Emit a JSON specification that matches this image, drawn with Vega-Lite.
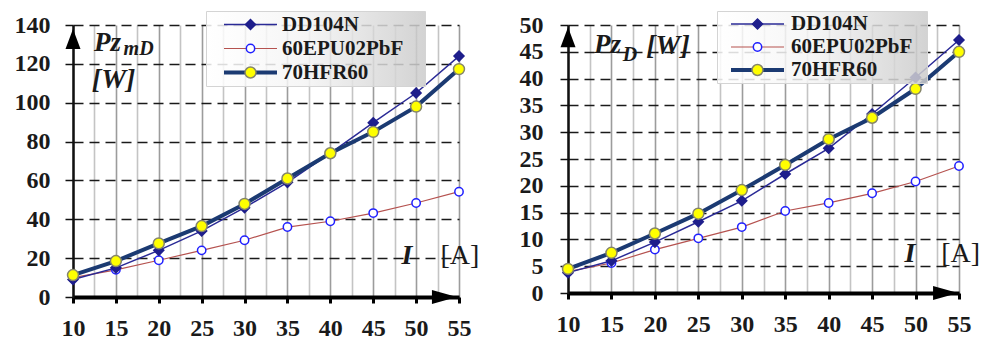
{
  "$schema": "https://vega.github.io/schema/vega-lite/v6.json",
  "background": "white",
  "padding": {"left": 14, "top": 10, "right": 0, "bottom": 0},
  "spacing": 109,
  "bounds": "flush",
  "resolve": {"legend": {"color": "independent", "strokeWidth": "independent", "shape": "independent", "fill": "independent", "stroke": "independent", "size": "independent"}},
  "config": {
    "view": {"stroke": null},
    "legend": {"labelFont": "Liberation Serif", "labelFontWeight": "bold", "labelFontSize": 21, "labelColor": "#1a1a1a"}
  },
  "datasets": {
    "left": [
      {"I": 10, "P": 10, "series": "60EPU02PbF"}, {"I": 15, "P": 14, "series": "60EPU02PbF"}, {"I": 20, "P": 18.9, "series": "60EPU02PbF"}, {"I": 25, "P": 24, "series": "60EPU02PbF"}, {"I": 30, "P": 29.2, "series": "60EPU02PbF"}, {"I": 35, "P": 36, "series": "60EPU02PbF"}, {"I": 40, "P": 39, "series": "60EPU02PbF"}, {"I": 45, "P": 43.2, "series": "60EPU02PbF"}, {"I": 50, "P": 48.4, "series": "60EPU02PbF"}, {"I": 55, "P": 54.2, "series": "60EPU02PbF"},
      {"I": 10, "P": 9, "series": "DD104N"}, {"I": 15, "P": 15, "series": "DD104N"}, {"I": 20, "P": 24, "series": "DD104N"}, {"I": 25, "P": 34, "series": "DD104N"}, {"I": 30, "P": 46, "series": "DD104N"}, {"I": 35, "P": 59, "series": "DD104N"}, {"I": 40, "P": 74, "series": "DD104N"}, {"I": 45, "P": 89.7, "series": "DD104N"}, {"I": 50, "P": 105, "series": "DD104N"}, {"I": 55, "P": 124, "series": "DD104N"},
      {"I": 10, "P": 11.3, "series": "70HFR60"}, {"I": 15, "P": 18.5, "series": "70HFR60"}, {"I": 20, "P": 27.6, "series": "70HFR60"}, {"I": 25, "P": 36.5, "series": "70HFR60"}, {"I": 30, "P": 47.9, "series": "70HFR60"}, {"I": 35, "P": 61, "series": "70HFR60"}, {"I": 40, "P": 74, "series": "70HFR60"}, {"I": 45, "P": 85, "series": "70HFR60"}, {"I": 50, "P": 98, "series": "70HFR60"}, {"I": 55, "P": 117.3, "series": "70HFR60"}
    ],
    "right": [
      {"I": 10, "P": 4, "series": "60EPU02PbF"}, {"I": 15, "P": 5.6, "series": "60EPU02PbF"}, {"I": 20, "P": 8.1, "series": "60EPU02PbF"}, {"I": 25, "P": 10.2, "series": "60EPU02PbF"}, {"I": 30, "P": 12.3, "series": "60EPU02PbF"}, {"I": 35, "P": 15.3, "series": "60EPU02PbF"}, {"I": 40, "P": 16.8, "series": "60EPU02PbF"}, {"I": 45, "P": 18.6, "series": "60EPU02PbF"}, {"I": 50, "P": 20.8, "series": "60EPU02PbF"}, {"I": 55, "P": 23.7, "series": "60EPU02PbF"},
      {"I": 10, "P": 3.8, "series": "DD104N"}, {"I": 15, "P": 6, "series": "DD104N"}, {"I": 20, "P": 9.5, "series": "DD104N"}, {"I": 25, "P": 13.3, "series": "DD104N"}, {"I": 30, "P": 17.2, "series": "DD104N"}, {"I": 35, "P": 22.2, "series": "DD104N"}, {"I": 40, "P": 27, "series": "DD104N"}, {"I": 45, "P": 33.4, "series": "DD104N"}, {"I": 50, "P": 40.2, "series": "DD104N"}, {"I": 55, "P": 47.2, "series": "DD104N"},
      {"I": 10, "P": 4.5, "series": "70HFR60"}, {"I": 15, "P": 7.5, "series": "70HFR60"}, {"I": 20, "P": 11.1, "series": "70HFR60"}, {"I": 25, "P": 14.8, "series": "70HFR60"}, {"I": 30, "P": 19.2, "series": "70HFR60"}, {"I": 35, "P": 23.9, "series": "70HFR60"}, {"I": 40, "P": 28.7, "series": "70HFR60"}, {"I": 45, "P": 32.7, "series": "70HFR60"}, {"I": 50, "P": 38.1, "series": "70HFR60"}, {"I": 55, "P": 45, "series": "70HFR60"}
    ]
  },
  "hconcat": [
    {
      "width": 386,
      "height": 272,
      "data": {"name": "left"},
      "layer": [
        {
          "mark": {"type": "line", "clip": false},
          "encoding": {
            "x": {"field": "I", "type": "quantitative", "scale": {"domain": [10, 55], "nice": false, "zero": false},
              "axis": {"values": [10, 12.5, 15, 17.5, 20, 22.5, 25, 27.5, 30, 32.5, 35, 37.5, 40, 42.5, 45, 47.5, 50, 52.5, 55], "tickCount": 100, "format": "d", "labelExpr": "datum.value % 5 === 0 ? datum.label : ''", "title": null, "grid": true,
                "gridColor": {"condition": {"test": "datum.value % 5 === 0", "value": "#9c9c9c"}, "value": "#c4c4c4"}, "gridWidth": 1.6,
                "domainColor": "#000000", "domainWidth": 4, "tickColor": "#000000", "tickWidth": {"condition": {"test": "datum.value % 5 === 0", "value": 3}, "value": 0}, "tickSize": 6,
                "labelFont": "Liberation Serif", "labelFontWeight": "bold", "labelFontSize": 24, "labelColor": "#1a1a1a", "labelPadding": 13, "labelFlush": false, "labelOverlap": false}},
            "y": {"field": "P", "type": "quantitative", "scale": {"domain": [0, 140], "nice": false},
              "axis": {"values": [0, 20, 40, 60, 80, 100, 120, 140], "tickCount": 100, "format": "d", "title": null, "grid": true, "gridDash": [10, 6], "gridColor": "#1a1a1a", "gridWidth": 1.5,
                "domainColor": "#111111", "domainWidth": 2.5, "tickColor": "#111111", "tickSize": 8, "tickWidth": 1.5,
                "labelFont": "Liberation Serif", "labelFontWeight": "bold", "labelFontSize": 24, "labelColor": "#1a1a1a", "labelPadding": 15, "labelFlush": false, "labelOverlap": false}},
            "color": {"field": "series", "type": "nominal", "scale": {"domain": ["DD104N", "60EPU02PbF", "70HFR60"], "range": ["#2a2a96", "#b5524f", "#1b3a72"]},
              "legend": {"title": ".", "titleOrient": "right", "titlePadding": 18, "titleFontSize": 1, "titleColor": "transparent", "orient": "none", "legendX": 133, "legendY": -14, "direction": "vertical", "columns": 1, "padding": 3, "clipHeight": 21, "rowPadding": 2, "symbolType": "stroke", "symbolSize": 2809, "symbolOffset": 13, "labelOffset": 3, "labelFont": "Liberation Serif", "labelFontWeight": "bold", "labelFontSize": 21,
                "encode": {"legend": {"update": {"fill": {"value": {"gradient": "linear", "x1": 0, "y1": 0, "x2": 1, "y2": 0, "stops": [{"offset": 0, "color": "#ffffff"}, {"offset": 0.45, "color": "#f4f4f4"}, {"offset": 1, "color": "#cbcbcb"}]}}, "fillOpacity": {"value": 0.85}, "stroke": {"value": "#d4d4d4"}, "strokeWidth": {"value": 1}}}}}},
            "strokeWidth": {"field": "series", "type": "nominal", "scale": {"type": "ordinal", "domain": ["DD104N", "60EPU02PbF", "70HFR60"], "range": [1.5, 1.2, 4]},
              "legend": {"title": ".", "titleOrient": "right", "titlePadding": 18, "titleFontSize": 1, "titleColor": "transparent", "orient": "none", "legendX": 133, "legendY": -14, "direction": "vertical", "columns": 1, "padding": 3, "clipHeight": 21, "rowPadding": 2, "symbolType": "stroke", "symbolSize": 2809, "symbolOffset": 13, "labelOffset": 3, "labelFont": "Liberation Serif", "labelFontWeight": "bold", "labelFontSize": 21}}
          }
        },
        {
          "mark": {"type": "point", "filled": true, "opacity": 1, "strokeWidth": 1.5, "clip": false},
          "encoding": {
            "x": {"field": "I", "type": "quantitative"},
            "y": {"field": "P", "type": "quantitative"},
            "shape": {"field": "series", "type": "nominal", "sort": {"field": "P", "op": "min"}, "scale": {"range": ["diamond", "circle", "circle"]},
              "legend": {"title": null, "orient": "none", "legendX": 133, "legendY": -14, "direction": "vertical", "columns": 1, "padding": 3, "clipHeight": 21, "rowPadding": 2, "symbolOffset": 31, "labelOffset": 3, "labelOpacity": 0}},
            "fill": {"field": "series", "type": "nominal", "sort": {"field": "P", "op": "min"}, "scale": {"range": ["#1e1e8c", "#ffffff", "#ffff00"]},
              "legend": {"title": null, "orient": "none", "legendX": 133, "legendY": -14, "direction": "vertical", "columns": 1, "padding": 3, "clipHeight": 21, "rowPadding": 2, "symbolOffset": 31, "labelOffset": 3, "labelOpacity": 0}},
            "stroke": {"field": "series", "type": "nominal", "sort": {"field": "P", "op": "min"}, "scale": {"range": ["#1e1e8c", "#2020ff", "#85856a"]},
              "legend": {"title": null, "orient": "none", "legendX": 133, "legendY": -14, "direction": "vertical", "columns": 1, "padding": 3, "clipHeight": 21, "rowPadding": 2, "symbolOffset": 31, "labelOffset": 3, "labelOpacity": 0}},
            "size": {"field": "series", "type": "nominal", "sort": {"field": "P", "op": "min"}, "scale": {"type": "ordinal", "range": [100, 70, 120]},
              "legend": {"title": null, "orient": "none", "legendX": 133, "legendY": -14, "direction": "vertical", "columns": 1, "padding": 3, "clipHeight": 21, "rowPadding": 2, "symbolOffset": 31, "labelOffset": 3, "labelOpacity": 0}}
          }
        },
        {
          "data": {"values": [{}]},
          "mark": {"type": "point", "shape": "M0,-1L0.75,1L-0.75,1Z", "filled": true, "color": "#000000", "opacity": 1, "size": 400, "clip": false},
          "encoding": {"x": {"datum": 10}, "y": {"datum": 132.8}}
        },
        {
          "data": {"values": [{}]},
          "mark": {"type": "point", "shape": "M1,0L-1,-0.56L-1,0.56Z", "filled": true, "color": "#000000", "opacity": 1, "size": 625, "clip": false},
          "encoding": {"x": {"datum": 53.3}, "y": {"datum": 0}}
        },
        {
          "data": {"values": [{}]},
          "mark": {"type": "text", "text": "Pz", "font": "Liberation Serif", "fontStyle": "italic", "fontWeight": "bold", "fontSize": 27, "align": "left", "baseline": "alphabetic", "color": "#1a1a1a"},
          "encoding": {"x": {"datum": 12.45}, "y": {"datum": 126.6}}
        },
        {
          "data": {"values": [{}]},
          "mark": {"type": "text", "text": "mD", "font": "Liberation Serif", "fontStyle": "italic", "fontWeight": "bold", "fontSize": 20, "align": "left", "baseline": "alphabetic", "color": "#1a1a1a"},
          "encoding": {"x": {"datum": 15.9}, "y": {"datum": 124.6}}
        },
        {
          "data": {"values": [{}]},
          "mark": {"type": "text", "text": "[W]", "font": "Liberation Serif", "fontStyle": "italic", "fontWeight": "bold", "fontSize": 28, "align": "left", "baseline": "alphabetic", "color": "#1a1a1a"},
          "encoding": {"x": {"datum": 12.2}, "y": {"datum": 107.5}}
        },
        {
          "data": {"values": [{}]},
          "mark": {"type": "text", "text": "I", "font": "Liberation Serif", "fontStyle": "italic", "fontWeight": "bold", "fontSize": 28, "align": "center", "baseline": "middle", "color": "#1a1a1a"},
          "encoding": {"x": {"datum": 48.94}, "y": {"datum": 21.1}}
        },
        {
          "data": {"values": [{}]},
          "mark": {"type": "text", "text": "[A]", "font": "Liberation Serif", "fontSize": 28, "align": "center", "baseline": "middle", "color": "#1a1a1a"},
          "encoding": {"x": {"datum": 55.1}, "y": {"datum": 21.1}}
        }
      ]
    },
    {
      "width": 391,
      "height": 268,
      "data": {"name": "right"},
      "layer": [
        {
          "mark": {"type": "line", "clip": false},
          "encoding": {
            "x": {"field": "I", "type": "quantitative", "scale": {"domain": [10, 55], "nice": false, "zero": false},
              "axis": {"values": [10, 12.5, 15, 17.5, 20, 22.5, 25, 27.5, 30, 32.5, 35, 37.5, 40, 42.5, 45, 47.5, 50, 52.5, 55], "tickCount": 100, "format": "d", "labelExpr": "datum.value % 5 === 0 ? datum.label : ''", "title": null, "grid": true,
                "gridColor": {"condition": {"test": "datum.value % 5 === 0", "value": "#9c9c9c"}, "value": "#c4c4c4"}, "gridWidth": 1.6,
                "domainColor": "#000000", "domainWidth": 4, "tickColor": "#000000", "tickWidth": {"condition": {"test": "datum.value % 5 === 0", "value": 3}, "value": 0}, "tickSize": 6,
                "labelFont": "Liberation Serif", "labelFontWeight": "bold", "labelFontSize": 24, "labelColor": "#1a1a1a", "labelPadding": 13, "labelFlush": false, "labelOverlap": false}},
            "y": {"field": "P", "type": "quantitative", "scale": {"domain": [0, 50], "nice": false},
              "axis": {"values": [0, 5, 10, 15, 20, 25, 30, 35, 40, 45, 50], "tickCount": 100, "format": "d", "title": null, "grid": true, "gridDash": [10, 6], "gridColor": "#1a1a1a", "gridWidth": 1.5,
                "domainColor": "#111111", "domainWidth": 2.5, "tickColor": "#111111", "tickSize": 8, "tickWidth": 1.5,
                "labelFont": "Liberation Serif", "labelFontWeight": "bold", "labelFontSize": 24, "labelColor": "#1a1a1a", "labelPadding": 17, "labelFlush": false, "labelOverlap": false}},
            "color": {"field": "series", "type": "nominal", "scale": {"domain": ["DD104N", "60EPU02PbF", "70HFR60"], "range": ["#2a2a96", "#b5524f", "#1b3a72"]},
              "legend": {"title": ".", "titleOrient": "right", "titlePadding": 11, "titleFontSize": 1, "titleColor": "transparent", "orient": "none", "legendX": 149, "legendY": -14, "direction": "vertical", "columns": 1, "padding": 3, "clipHeight": 20, "rowPadding": 2, "symbolType": "stroke", "symbolSize": 2809, "symbolOffset": 9, "labelOffset": 5, "labelFont": "Liberation Serif", "labelFontWeight": "bold", "labelFontSize": 21,
                "encode": {"legend": {"update": {"fill": {"value": {"gradient": "linear", "x1": 0, "y1": 0, "x2": 1, "y2": 0, "stops": [{"offset": 0, "color": "#ffffff"}, {"offset": 0.45, "color": "#f4f4f4"}, {"offset": 1, "color": "#cbcbcb"}]}}, "fillOpacity": {"value": 0.85}, "stroke": {"value": "#d4d4d4"}, "strokeWidth": {"value": 1}}}}}},
            "strokeWidth": {"field": "series", "type": "nominal", "scale": {"type": "ordinal", "domain": ["DD104N", "60EPU02PbF", "70HFR60"], "range": [1.5, 1.2, 4]},
              "legend": {"title": ".", "titleOrient": "right", "titlePadding": 11, "titleFontSize": 1, "titleColor": "transparent", "orient": "none", "legendX": 149, "legendY": -14, "direction": "vertical", "columns": 1, "padding": 3, "clipHeight": 20, "rowPadding": 2, "symbolType": "stroke", "symbolSize": 2809, "symbolOffset": 9, "labelOffset": 5, "labelFont": "Liberation Serif", "labelFontWeight": "bold", "labelFontSize": 21}}
          }
        },
        {
          "mark": {"type": "point", "filled": true, "opacity": 1, "strokeWidth": 1.5, "clip": false},
          "encoding": {
            "x": {"field": "I", "type": "quantitative"},
            "y": {"field": "P", "type": "quantitative"},
            "shape": {"field": "series", "type": "nominal", "sort": {"field": "P", "op": "min"}, "scale": {"range": ["diamond", "circle", "circle"]},
              "legend": {"title": null, "orient": "none", "legendX": 149, "legendY": -14, "direction": "vertical", "columns": 1, "padding": 3, "clipHeight": 20, "rowPadding": 2, "symbolOffset": 27, "labelOffset": 5, "labelOpacity": 0}},
            "fill": {"field": "series", "type": "nominal", "sort": {"field": "P", "op": "min"}, "scale": {"range": ["#1e1e8c", "#ffffff", "#ffff00"]},
              "legend": {"title": null, "orient": "none", "legendX": 149, "legendY": -14, "direction": "vertical", "columns": 1, "padding": 3, "clipHeight": 20, "rowPadding": 2, "symbolOffset": 27, "labelOffset": 5, "labelOpacity": 0}},
            "stroke": {"field": "series", "type": "nominal", "sort": {"field": "P", "op": "min"}, "scale": {"range": ["#1e1e8c", "#2020ff", "#85856a"]},
              "legend": {"title": null, "orient": "none", "legendX": 149, "legendY": -14, "direction": "vertical", "columns": 1, "padding": 3, "clipHeight": 20, "rowPadding": 2, "symbolOffset": 27, "labelOffset": 5, "labelOpacity": 0}},
            "size": {"field": "series", "type": "nominal", "sort": {"field": "P", "op": "min"}, "scale": {"type": "ordinal", "range": [100, 70, 120]},
              "legend": {"title": null, "orient": "none", "legendX": 149, "legendY": -14, "direction": "vertical", "columns": 1, "padding": 3, "clipHeight": 20, "rowPadding": 2, "symbolOffset": 27, "labelOffset": 5, "labelOpacity": 0}}
          }
        },
        {
          "data": {"values": [{}]},
          "mark": {"type": "point", "shape": "M0,-1L0.75,1L-0.75,1Z", "filled": true, "color": "#000000", "opacity": 1, "size": 400, "clip": false},
          "encoding": {"x": {"datum": 10}, "y": {"datum": 47.7}}
        },
        {
          "data": {"values": [{}]},
          "mark": {"type": "point", "shape": "M1,0L-1,-0.56L-1,0.56Z", "filled": true, "color": "#000000", "opacity": 1, "size": 625, "clip": false},
          "encoding": {"x": {"datum": 53.45}, "y": {"datum": 0}}
        },
        {
          "data": {"values": [{}]},
          "mark": {"type": "text", "text": "Pz", "font": "Liberation Serif", "fontStyle": "italic", "fontWeight": "bold", "fontSize": 27, "align": "left", "baseline": "alphabetic", "color": "#1a1a1a"},
          "encoding": {"x": {"datum": 13.0}, "y": {"datum": 44.8}}
        },
        {
          "data": {"values": [{}]},
          "mark": {"type": "text", "text": "D", "font": "Liberation Serif", "fontStyle": "italic", "fontWeight": "bold", "fontSize": 20, "align": "left", "baseline": "alphabetic", "color": "#1a1a1a"},
          "encoding": {"x": {"datum": 16.3}, "y": {"datum": 43.3}}
        },
        {
          "data": {"values": [{}]},
          "mark": {"type": "text", "text": "[W]", "font": "Liberation Serif", "fontStyle": "italic", "fontWeight": "bold", "fontSize": 28, "align": "left", "baseline": "alphabetic", "color": "#1a1a1a"},
          "encoding": {"x": {"datum": 19.0}, "y": {"datum": 44.5}}
        },
        {
          "data": {"values": [{}]},
          "mark": {"type": "text", "text": "I", "font": "Liberation Serif", "fontStyle": "italic", "fontWeight": "bold", "fontSize": 28, "align": "center", "baseline": "middle", "color": "#1a1a1a"},
          "encoding": {"x": {"datum": 49.36}, "y": {"datum": 7.3}}
        },
        {
          "data": {"values": [{}]},
          "mark": {"type": "text", "text": "[A]", "font": "Liberation Serif", "fontSize": 28, "align": "center", "baseline": "middle", "color": "#1a1a1a"},
          "encoding": {"x": {"datum": 55.2}, "y": {"datum": 7.3}}
        }
      ]
    }
  ]
}
